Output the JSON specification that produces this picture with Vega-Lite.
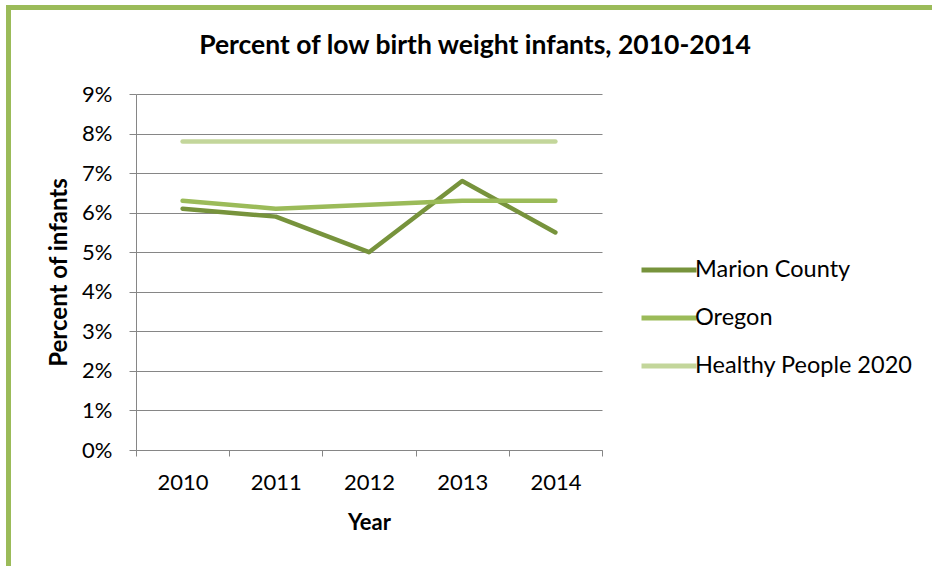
{
  "$schema": "https://vega.github.io/schema/vega-lite/v6.json",
  "width": 466,
  "height": 356,
  "autosize": {"type": "none"},
  "padding": {"left": 136, "top": 94, "right": 330, "bottom": 116},
  "background": "white",
  "config": {"font": "Lato", "view": {"stroke": null}},
  "title": {
    "text": "Percent of low birth weight infants, 2010-2014",
    "font": "Lato",
    "fontSize": 26.5,
    "fontWeight": "bold",
    "color": "black",
    "anchor": "middle",
    "dx": 106,
    "offset": -57
  },
  "layer": [
    {
      "data": {
        "values": [
          {"year": "2010", "series": "Marion County", "pct": 0.061},
          {"year": "2011", "series": "Marion County", "pct": 0.059},
          {"year": "2012", "series": "Marion County", "pct": 0.050},
          {"year": "2013", "series": "Marion County", "pct": 0.068},
          {"year": "2014", "series": "Marion County", "pct": 0.055},
          {"year": "2010", "series": "Oregon", "pct": 0.063},
          {"year": "2011", "series": "Oregon", "pct": 0.061},
          {"year": "2012", "series": "Oregon", "pct": 0.062},
          {"year": "2013", "series": "Oregon", "pct": 0.063},
          {"year": "2014", "series": "Oregon", "pct": 0.063},
          {"year": "2010", "series": "Healthy People 2020", "pct": 0.078},
          {"year": "2011", "series": "Healthy People 2020", "pct": 0.078},
          {"year": "2012", "series": "Healthy People 2020", "pct": 0.078},
          {"year": "2013", "series": "Healthy People 2020", "pct": 0.078},
          {"year": "2014", "series": "Healthy People 2020", "pct": 0.078}
        ]
      },
      "mark": {"type": "line", "strokeWidth": 4.5, "strokeCap": "round", "strokeJoin": "round"},
      "encoding": {
        "x": {
          "field": "year",
          "type": "ordinal",
          "bandPosition": 0.5,
          "scale": {"type": "band", "paddingInner": 0, "paddingOuter": 0},
          "axis": {
            "title": "Year",
            "labelAngle": 0,
            "labelFontSize": 22,
            "labelColor": "black",
            "labelPadding": 16,
            "tickBand": "extent",
            "tickSize": 6,
            "tickColor": "#868686",
            "domainColor": "#868686",
            "grid": false,
            "titleFontSize": 22,
            "titleFontWeight": "bold",
            "titleColor": "black",
            "titlePadding": 19
          }
        },
        "y": {
          "field": "pct",
          "type": "quantitative",
          "scale": {"domain": [0, 0.09], "nice": false},
          "axis": {
            "title": "Percent of infants",
            "format": ".0%",
            "values": [0, 0.01, 0.02, 0.03, 0.04, 0.05, 0.06, 0.07, 0.08, 0.09],
            "labelFontSize": 22,
            "labelColor": "black",
            "labelPadding": 17,
            "tickSize": 7,
            "tickColor": "#868686",
            "domainColor": "#868686",
            "grid": true,
            "gridColor": "#868686",
            "gridWidth": 1,
            "gridOpacity": 1,
            "titleFontSize": 24,
            "titleFontWeight": "bold",
            "titleColor": "black",
            "titlePadding": 10
          }
        },
        "color": {
          "field": "series",
          "type": "nominal",
          "scale": {
            "domain": ["Marion County", "Oregon", "Healthy People 2020"],
            "range": ["#77933C", "#9BBB59", "#C3D69B"]
          },
          "legend": {
            "title": null,
            "orient": "none",
            "legendX": 503,
            "legendY": 146,
            "symbolType": "stroke",
            "symbolSize": 3025,
            "symbolStrokeWidth": 5,
            "labelFontSize": 23.5,
            "labelColor": "black",
            "labelOffset": -4,
            "labelLimit": 0,
            "rowPadding": 6
          }
        }
      }
    },
    {
      "data": {"values": [{"k": 1}]},
      "mark": {"type": "rule", "color": "#9BBB59", "strokeWidth": 5},
      "encoding": {"x": {"value": -127.5}, "y": {"value": -89}, "y2": {"value": 472}}
    },
    {
      "data": {"values": [{"k": 1}]},
      "mark": {"type": "rule", "color": "#9BBB59", "strokeWidth": 5},
      "encoding": {"x": {"value": -130}, "x2": {"value": 796}, "y": {"value": -86.5}}
    }
  ]
}
